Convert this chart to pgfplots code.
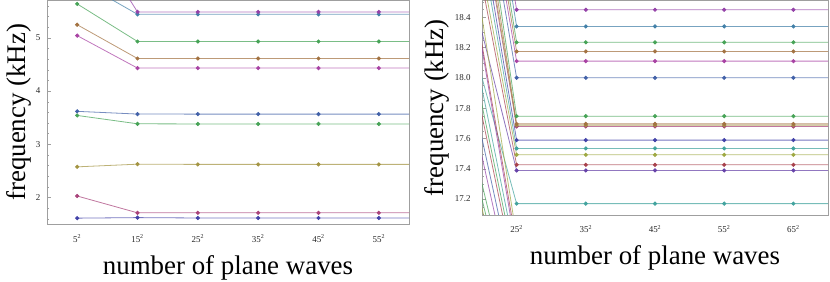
\documentclass[border=0pt]{standalone}
\usepackage{fontspec}
\setmainfont{Liberation Serif}
\usepackage{pgfplots}
\pgfplotsset{compat=1.18}
\definecolor{c1}{rgb}{0.26,0.26,0.66}
\definecolor{c2}{rgb}{0.66,0.26,0.48}
\definecolor{c3}{rgb}{0.64,0.58,0.26}
\definecolor{c4}{rgb}{0.28,0.64,0.34}
\definecolor{c5}{rgb}{0.26,0.38,0.66}
\definecolor{c6}{rgb}{0.66,0.26,0.64}
\definecolor{c7}{rgb}{0.64,0.45,0.26}
\definecolor{c9}{rgb}{0.26,0.50,0.66}
\definecolor{c10}{rgb}{0.58,0.26,0.66}
\definecolor{c11}{rgb}{0.66,0.26,0.30}
\definecolor{c12}{rgb}{0.26,0.64,0.62}
\definecolor{c13}{rgb}{0.62,0.66,0.26}
\definecolor{c14}{rgb}{0.40,0.26,0.66}
\pgfplotsset{
  mma/.style={
    scale only axis,
    axis line style={gray!75},
    tick style={gray!75},
    tick align=inside,
    major tick length=4bp,
    minor tick length=2.3bp,
    xtick pos=bottom, ytick pos=left,
    xtick style={draw=none},
    tick label style={font=\fontsize{9}{10}\selectfont, black!85},
    label style={font=\fontsize{27}{30}\selectfont},
    /pgf/number format/assume math mode=true,
    clip marker paths=true,
    xlabel={number of plane waves},
    ylabel={frequency (kHz)},
    xlabel style={at={(axis description cs:0.5,0)}, anchor=base, yshift=-50bp},
    xticklabel style={anchor=base, yshift=-18bp},
    every axis plot/.append style={line width=0.8bp, mark=*, mark size=1.65bp,
      draw opacity=0.72, mark options={solid, draw opacity=1, fill opacity=1}},
  }
}
\begin{document}
\begin{tikzpicture}
\useasboundingbox (0,0) rectangle (830bp,282bp);
% ---------------- left panel ----------------
\begin{axis}[mma,
  at={(47bp,58bp)}, anchor=south west,
  width=362bp, height=223.5bp,
  xmin=0, xmax=60, ymin=1.5, ymax=5.7,
  xtick={5,15,25,35,45,55},
  xticklabels={5\textsuperscript{2},15\textsuperscript{2},25\textsuperscript{2},35\textsuperscript{2},45\textsuperscript{2},55\textsuperscript{2}},
  ytick={2,3,4,5},
  minor ytick={1.6,1.8,2.2,2.4,2.6,2.8,3.2,3.4,3.6,3.8,4.2,4.4,4.6,4.8,5.2,5.4,5.6},
  yticklabel style={xshift=-3bp},
  ylabel style={at={([xshift=-22bp]axis description cs:0,0.5)}, anchor=base},
]
\addplot[c1] coordinates {(5,1.610) (15,1.620) (25,1.613) (35,1.613) (45,1.613) (55,1.613) (65,1.613)};
\addplot[c2] coordinates {(5,2.026) (15,1.710) (25,1.710) (35,1.710) (45,1.710) (55,1.710) (65,1.710)};
\addplot[c3] coordinates {(5,2.574) (15,2.624) (25,2.620) (35,2.620) (45,2.620) (55,2.620) (65,2.620)};
\addplot[c4] coordinates {(5,3.540) (15,3.383) (25,3.380) (35,3.380) (45,3.380) (55,3.380) (65,3.380)};
\addplot[c5] coordinates {(5,3.617) (15,3.566) (25,3.565) (35,3.565) (45,3.565) (55,3.565) (65,3.565)};
\addplot[c6] coordinates {(5,5.040) (15,4.430) (25,4.430) (35,4.430) (45,4.430) (55,4.430) (65,4.430)};
\addplot[c7] coordinates {(5,5.245) (15,4.610) (25,4.610) (35,4.610) (45,4.610) (55,4.610) (65,4.610)};
\addplot[c4] coordinates {(5,5.636) (15,4.930) (25,4.930) (35,4.930) (45,4.930) (55,4.930) (65,4.930)};
\addplot[c9] coordinates {(5,6.090) (15,5.440) (25,5.440) (35,5.440) (45,5.440) (55,5.440) (65,5.440)};
\addplot[c10] coordinates {(5,7.280) (15,5.485) (25,5.485) (35,5.485) (45,5.485) (55,5.485) (65,5.485)};
\end{axis}
% ---------------- right panel ----------------
\begin{axis}[mma,
  at={(482bp,67bp)}, anchor=south west,
  width=346bp, height=214.5bp,
  xmin=20, xmax=70, ymin=17.095, ymax=18.51,
  xtick={25,35,45,55,65},
  xticklabels={25\textsuperscript{2},35\textsuperscript{2},45\textsuperscript{2},55\textsuperscript{2},65\textsuperscript{2}},
  ytick={17.2,17.4,17.6,17.8,18.0,18.2,18.4},
  minor ytick={17.1,17.15,17.25,17.3,17.35,17.45,17.5,17.55,17.65,17.7,17.75,17.85,17.9,17.95,18.05,18.1,18.15,18.25,18.3,18.35,18.45,18.5},
  yticklabel style={/pgf/number format/.cd, fixed, fixed zerofill, precision=1, /tikz/.cd, xshift=-8bp},
  ylabel style={at={([xshift=-39bp]axis description cs:0,0.5)}, anchor=base},
]
% modes converging inside the window
\addplot[c12] coordinates {(15,18.830) (25,17.170) (35,17.170) (45,17.170) (55,17.170) (65,17.170) (75,17.170)};
\addplot[c14] coordinates {(15,19.211) (25,17.389) (35,17.389) (45,17.389) (55,17.389) (65,17.389) (75,17.389)};
\addplot[c11] coordinates {(15,19.814) (25,17.426) (35,17.426) (45,17.426) (55,17.426) (65,17.426) (75,17.426)};
\addplot[c13] coordinates {(15,19.908) (25,17.492) (35,17.492) (45,17.492) (55,17.492) (65,17.492) (75,17.492)};
\addplot[c12] coordinates {(15,20.166) (25,17.534) (35,17.534) (45,17.534) (55,17.534) (65,17.534) (75,17.534)};
\addplot[c1] coordinates {(15,20.311) (25,17.589) (35,17.589) (45,17.589) (55,17.589) (65,17.589) (75,17.589)};
\addplot[c2] coordinates {(15,20.421) (25,17.679) (35,17.679) (45,17.679) (55,17.679) (65,17.679) (75,17.679)};
\addplot[c3] coordinates {(15,20.508) (25,17.688) (35,17.688) (45,17.688) (55,17.688) (65,17.688) (75,17.688)};
\addplot[c7] coordinates {(15,20.704) (25,17.696) (35,17.696) (45,17.696) (55,17.696) (65,17.696) (75,17.696)};
\addplot[c4] coordinates {(15,20.853) (25,17.747) (35,17.747) (45,17.747) (55,17.747) (65,17.747) (75,17.747)};
\addplot[c5] coordinates {(15,20.700) (25,18.000) (35,18.000) (45,18.000) (55,18.000) (65,18.000) (75,18.000)};
\addplot[c6] coordinates {(15,20.790) (25,18.110) (35,18.110) (45,18.110) (55,18.110) (65,18.110) (75,18.110)};
\addplot[c7] coordinates {(15,20.926) (25,18.174) (35,18.174) (45,18.174) (55,18.174) (65,18.174) (75,18.174)};
\addplot[c4] coordinates {(15,21.066) (25,18.234) (35,18.234) (45,18.234) (55,18.234) (65,18.234) (75,18.234)};
\addplot[c9] coordinates {(15,21.161) (25,18.339) (35,18.339) (45,18.339) (55,18.339) (65,18.339) (75,18.339)};
\addplot[c10] coordinates {(15,21.251) (25,18.449) (35,18.449) (45,18.449) (55,18.449) (65,18.449) (75,18.449)};
% modes converging below the window
\addplot[c13] coordinates {(15,19.850) (25,16.950) (35,16.950) (45,16.950) (55,16.950) (65,16.950) (75,16.950)};
\addplot[c11] coordinates {(15,19.540) (25,16.900) (35,16.900) (45,16.900) (55,16.900) (65,16.900) (75,16.900)};
\addplot[c10] coordinates {(15,19.530) (25,16.850) (35,16.850) (45,16.850) (55,16.850) (65,16.850) (75,16.850)};
\addplot[c12] coordinates {(15,19.060) (25,16.800) (35,16.800) (45,16.800) (55,16.800) (65,16.800) (75,16.800)};
\addplot[c4] coordinates {(15,18.920) (25,16.720) (35,16.720) (45,16.720) (55,16.720) (65,16.720) (75,16.720)};
\addplot[c11] coordinates {(15,18.850) (25,16.650) (35,16.650) (45,16.650) (55,16.650) (65,16.650) (75,16.650)};
\addplot[c5] coordinates {(15,18.650) (25,16.550) (35,16.550) (45,16.550) (55,16.550) (65,16.550) (75,16.550)};
\addplot[c10] coordinates {(15,18.510) (25,16.450) (35,16.450) (45,16.450) (55,16.450) (65,16.450) (75,16.450)};
\addplot[c4] coordinates {(15,18.250) (25,16.350) (35,16.350) (45,16.350) (55,16.350) (65,16.350) (75,16.350)};
\addplot[c4] coordinates {(15,18.150) (25,16.250) (35,16.250) (45,16.250) (55,16.250) (65,16.250) (75,16.250)};
\addplot[c13] coordinates {(15,18.130) (25,16.150) (35,16.150) (45,16.150) (55,16.150) (65,16.150) (75,16.150)};
\end{axis}
\end{tikzpicture}
\end{document}
